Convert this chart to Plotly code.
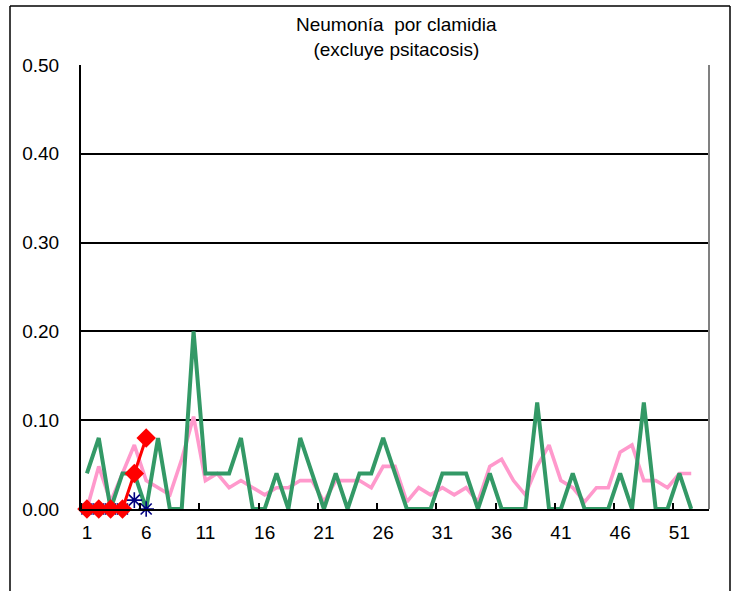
import plotly.graph_objects as go

weeks = list(range(1, 53))
tick_weeks = [1, 6, 11, 16, 21, 26, 31, 36, 41, 46, 51]
tick_labels = [str(w) for w in tick_weeks]

# 5-year reference (pink)
pink_vals = [0.0, 0.048, 0.008, 0.04, 0.072, 0.032, 0.024, 0.016, 0.056, 0.104,
             0.032, 0.04, 0.024, 0.032, 0.024, 0.016, 0.024, 0.024, 0.032, 0.032,
             0.008, 0.032, 0.032, 0.032, 0.024, 0.048, 0.048, 0.008, 0.024, 0.016,
             0.024, 0.016, 0.024, 0.008, 0.048, 0.056, 0.032, 0.016, 0.048, 0.072,
             0.032, 0.024, 0.008, 0.024, 0.024, 0.064, 0.072, 0.032, 0.032, 0.024,
             0.04, 0.04]
# previous year (green)
green_vals = [0.04, 0.08, 0.0, 0.04, 0.04, 0.0, 0.08, 0.0, 0.0, 0.2,
              0.04, 0.04, 0.04, 0.08, 0.0, 0.0, 0.04, 0.0, 0.08, 0.04,
              0.0, 0.04, 0.0, 0.04, 0.04, 0.08, 0.04, 0.0, 0.0, 0.0,
              0.04, 0.04, 0.04, 0.0, 0.04, 0.0, 0.0, 0.0, 0.12, 0.0,
              0.0, 0.04, 0.0, 0.0, 0.0, 0.04, 0.0, 0.12, 0.0, 0.0,
              0.04, 0.0]
# current year (red)
red_weeks = [1, 2, 3, 4, 5, 6]
red_vals = [0.0, 0.0, 0.0, 0.0, 0.04, 0.08]
# navy asterisks
navy_weeks = [1, 2, 3, 4, 5, 6]
navy_vals = [0.0, 0.0, 0.0, 0.0, 0.01, 0.0]

FONT = "Liberation Sans"
W, H = 739, 591
L, T = 81, 65
R = W - 709
B = H - 509
PW = W - L - R
PH = H - T - B

def px_x(p):
    return (p - L) / PW

def px_y(p):
    return (H - B - p) / PH

fig = go.Figure()
fig.add_trace(go.Scatter(x=weeks, y=pink_vals, mode="lines",
                         line=dict(color="#FF99CC", width=3.6), showlegend=False))
fig.add_trace(go.Scatter(x=weeks, y=green_vals, mode="lines",
                         line=dict(color="#339966", width=4), showlegend=False))
fig.add_trace(go.Scatter(x=navy_weeks, y=navy_vals, mode="markers",
                         marker=dict(symbol="asterisk-open", size=13, color="#000080",
                                     line=dict(color="#000080", width=1.6)),
                         showlegend=False, cliponaxis=False))
fig.add_trace(go.Scatter(x=red_weeks, y=red_vals, mode="lines+markers",
                         line=dict(color="#FF0000", width=3),
                         marker=dict(symbol="diamond", size=15, color="#FF0000"),
                         showlegend=False, cliponaxis=False))

fig.update_layout(
    width=W, height=H,
    margin=dict(l=L, r=R, t=T, b=B, autoexpand=False),
    paper_bgcolor="white", plot_bgcolor="white",
    font=dict(family=FONT, size=19, color="#000000"),
    xaxis=dict(range=[0.5, 53.5], tickvals=tick_weeks, ticktext=tick_labels,
               ticks="", showgrid=False, zeroline=False,
               showline=True, linecolor="#000000", linewidth=2,
               ticklabelstandoff=5,
               minor=dict(tick0=0.5, dtick=5, ticks="inside", ticklen=6,
                          tickcolor="#000000", tickwidth=1.5, showgrid=False)),
    yaxis=dict(range=[0, 0.5], dtick=0.1, tickformat=".2f",
               showgrid=True, gridcolor="#000000", gridwidth=1.8,
               zeroline=False, showline=True, linecolor="#000000", linewidth=2,
               ticks="", ticklabelstandoff=16),
    shapes=[
        dict(type="line", xref="paper", yref="paper",
             x0=px_x(10), x1=px_x(730), y0=px_y(6), y1=px_y(6),
             line=dict(color="#000000", width=1.5), layer="above"),
        dict(type="line", xref="paper", yref="paper",
             x0=px_x(10), x1=px_x(10), y0=px_y(600), y1=px_y(6),
             line=dict(color="#000000", width=1.5), layer="above"),
        dict(type="line", xref="paper", yref="paper",
             x0=px_x(730), x1=px_x(730), y0=px_y(600), y1=px_y(6),
             line=dict(color="#000000", width=1.5), layer="above"),
        dict(type="line", xref="paper", yref="paper", x0=1, x1=1, y0=0, y1=1,
             line=dict(color="#808080", width=2)),
    ],
    annotations=[
        dict(text="Neumonía  por clamidia<br>(excluye psitacosis)",
             xref="paper", yref="paper", x=px_x(396),
             y=px_y(37), xanchor="center", yanchor="middle",
             showarrow=False, font=dict(family=FONT, size=19, color="#000000")),
    ],
)

fig.write_html("out.html", config={"displayModeBar": False},
               post_script="document.body.style.margin='0';document.body.style.overflow='hidden';")
